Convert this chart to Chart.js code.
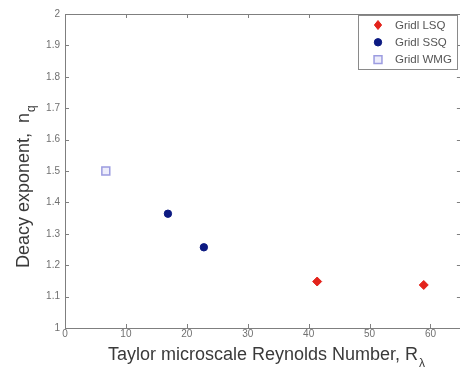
<!DOCTYPE html>
<html>
<head>
<meta charset="utf-8">
<script src="https://cdn.jsdelivr.net/npm/chart.js@4/dist/chart.umd.min.js"></script>
<style>
html,body{margin:0;padding:0;background:#fff;overflow:hidden;}
#wrap{width:460px;height:370px;overflow:hidden;position:relative;}
canvas{display:block;}
</style>
</head>
<body>
<div id="wrap"><canvas id="c" width="468" height="370"></canvas></div>
<script>
// ---- data ----
const seriesLabels = ["Gridl LSQ", "Gridl SSQ", "Gridl WMG"];
const lsqX = [41.4, 58.9];
const lsqY = [1.148, 1.137];
const ssqX = [16.9, 22.8];
const ssqY = [1.364, 1.257];
const wmgX = [6.7];
const wmgY = [1.50];
const xTicks = [0, 10, 20, 30, 40, 50, 60];
const yTicks = [1, 1.1, 1.2, 1.3, 1.4, 1.5, 1.6, 1.7, 1.8, 1.9, 2];
const xTitle = "Taylor microscale Reynolds Number, R";
const xTitleSub = "\u03bb";
const yTitle = "Deacy exponent,  n";
const yTitleSub = "q";

const pts = (xs, ys) => xs.map((x, i) => ({x: x, y: ys[i]}));

const AXIS = '#7f7f7f';
const TICKC = '#707070';
const TITLEC = '#3a3a3a';
const FONT = "'Liberation Sans', Arial, sans-serif";
const TITLE_SIZE = 18;

const frame = {
  id: 'frame',
  afterDatasetsDraw(chart) {
    const {ctx, chartArea: a, scales} = chart;
    ctx.save();
    ctx.strokeStyle = AXIS;
    ctx.lineWidth = 1;
    ctx.beginPath();
    ctx.rect(Math.round(a.left) + 0.5, Math.round(a.top) + 0.5,
             Math.round(a.right - a.left), Math.round(a.bottom - a.top));
    ctx.stroke();
    const L = 4;
    ctx.beginPath();
    xTicks.forEach(v => {
      const px = Math.round(scales.x.getPixelForValue(v)) + 0.5;
      ctx.moveTo(px, a.bottom); ctx.lineTo(px, a.bottom - L);
      ctx.moveTo(px, a.top); ctx.lineTo(px, a.top + L);
    });
    yTicks.forEach(v => {
      const py = Math.round(scales.y.getPixelForValue(v)) + 0.5;
      ctx.moveTo(a.left, py); ctx.lineTo(a.left + L, py);
      ctx.moveTo(a.right, py); ctx.lineTo(a.right - L, py);
    });
    ctx.stroke();
    ctx.restore();
  },
  afterDraw(chart) {
    const {ctx, scales} = chart;
    ctx.save();
    ctx.fillStyle = TITLEC;
    ctx.textBaseline = 'middle';
    ctx.textAlign = 'left';
    // x title subscript
    ctx.font = TITLE_SIZE + 'px ' + FONT;
    const wx = ctx.measureText(xTitle).width;
    const xs = scales.x;
    const xtY = xs.bottom - chart.options.scales.x.title.padding.bottom - TITLE_SIZE / 2;
    const xtX = (xs.left + xs.right) / 2;
    ctx.font = '12px ' + FONT;
    ctx.fillText(xTitleSub, xtX + wx / 2 + 1, xtY + 9);

    // y title (rotated) with subscript
    ctx.translate(24, 268);
    ctx.rotate(-Math.PI / 2);
    ctx.font = TITLE_SIZE + 'px ' + FONT;
    ctx.fillText(yTitle, 0, 0);
    const wy = ctx.measureText(yTitle).width;
    ctx.font = '12px ' + FONT;
    ctx.fillText(yTitleSub, wy + 1, 8);
    ctx.restore();

    // legend box
    ctx.save();
    const bx = 358.5, by = 15.5, bw = 99, bh = 54;
    ctx.fillStyle = '#fff';
    ctx.fillRect(bx, by, bw, bh);
    ctx.strokeStyle = '#8a8a8a';
    ctx.lineWidth = 1;
    ctx.strokeRect(bx, by, bw, bh);
    ctx.font = '11.5px ' + FONT;
    ctx.textBaseline = 'middle';
    ctx.textAlign = 'left';
    chart.data.datasets.forEach((ds, i) => {
      const cy = 25 + i * 17.3;
      const cx = 378;
      ctx.fillStyle = ds.backgroundColor;
      ctx.strokeStyle = ds.borderColor;
      ctx.lineWidth = ds.borderWidth;
      const r = ds.pointRadius;
      ctx.beginPath();
      if (ds.pointStyle === 'circle') {
        ctx.arc(cx, cy, r, 0, Math.PI * 2);
      } else if (ds.pointStyle === 'rectRot') {
        ctx.moveTo(cx, cy - r); ctx.lineTo(cx + r * 0.8, cy);
        ctx.lineTo(cx, cy + r); ctx.lineTo(cx - r * 0.8, cy); ctx.closePath();
      } else {
        const s = r * Math.SQRT1_2;
        ctx.rect(cx - s, cy - s, 2 * s, 2 * s);
      }
      ctx.fill();
      ctx.stroke();
      ctx.fillStyle = '#555';
      ctx.fillText(ds.label, 395, cy + 0.5);
    });
    ctx.restore();
  }
};

new Chart(document.getElementById('c'), {
  type: 'scatter',
  data: {
    datasets: [
      {label: seriesLabels[0], data: pts(lsqX, lsqY), pointStyle: 'rectRot', pointRadius: 4.5,
       backgroundColor: '#e3231b', borderColor: '#e3231b', borderWidth: 1},
      {label: seriesLabels[1], data: pts(ssqX, ssqY), pointStyle: 'circle', pointRadius: 3.7,
       backgroundColor: '#0c1a82', borderColor: '#0c1a82', borderWidth: 1},
      {label: seriesLabels[2], data: pts(wmgX, wmgY), pointStyle: 'rect', pointRadius: 5.6,
       backgroundColor: '#ededfb', borderColor: '#9c9ce0', borderWidth: 1.5}
    ]
  },
  options: {
    responsive: false,
    animation: false,
    layout: {padding: {left: 0, top: 14, right: 4, bottom: 0}},
    plugins: {legend: {display: false}, tooltip: {enabled: false}},
    elements: {point: {hoverRadius: 4}},
    scales: {
      x: {
        type: 'linear', min: 0, max: 65,
        afterBuildTicks: s => { s.ticks = xTicks.map(v => ({value: v})); },
        afterFit: s => { s.height = 42; },
        grid: {display: false, drawTicks: false},
        border: {display: false},
        ticks: {color: TICKC, padding: 0, font: {family: FONT, size: 10}},
        title: {display: true, text: xTitle, color: TITLEC, padding: {top: 0, bottom: 6},
                font: {family: FONT, size: TITLE_SIZE, lineHeight: 1}}
      },
      y: {
        type: 'linear', min: 1, max: 2,
        afterBuildTicks: s => { s.ticks = yTicks.map(v => ({value: v})); },
        afterFit: s => { s.width = 65; },
        grid: {display: false, drawTicks: false},
        border: {display: false},
        ticks: {color: TICKC, padding: 5, font: {family: FONT, size: 10},
                callback: v => String(Math.round(v * 10) / 10)},
        title: {display: false, text: yTitle}
      }
    }
  },
  plugins: [frame]
});
</script>
</body>
</html>
